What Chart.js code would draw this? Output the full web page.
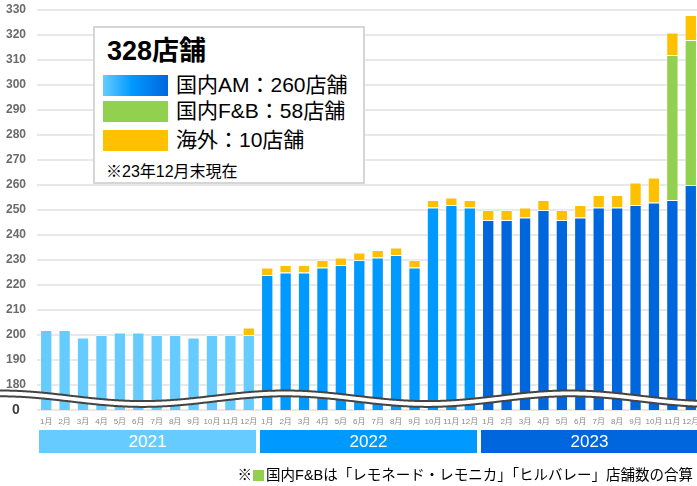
<!DOCTYPE html>
<html><head><meta charset="utf-8">
<script src="https://cdn.jsdelivr.net/npm/chart.js@4/dist/chart.umd.min.js"></script>
<style>
html,body{margin:0;padding:0;background:#fff;overflow:hidden;}
#wrap{position:relative;width:697px;height:486px;overflow:hidden;}
#c{position:absolute;left:0;top:0;}
.jp{font-family:"Liberation Sans","Noto Sans CJK JP",sans-serif;}
#legend{position:absolute;left:93px;top:26px;width:272px;height:158px;border:2px solid #d6d6d6;background:#fff;box-sizing:border-box;color:#000;}
#legend .title{position:absolute;left:12px;top:6px;font-size:27px;font-weight:bold;line-height:34px;white-space:nowrap;}
#legend .row{position:absolute;left:8px;height:22px;white-space:nowrap;}
#legend .sw{position:absolute;left:0;top:0;width:65px;height:21px;}
#legend .lt{position:absolute;left:73px;top:-3px;font-size:21px;line-height:26px;}
#legend .note{position:absolute;left:11px;top:134px;font-size:16px;line-height:20px;white-space:nowrap;}
.band{position:absolute;top:430px;height:23px;color:#fff;font-family:"Liberation Sans",Arial,sans-serif;font-size:17px;line-height:23px;text-align:center;}
#foot{position:absolute;right:4px;top:466px;font-size:14.5px;line-height:19px;white-space:nowrap;color:#000;}
#foot .sq{display:inline-block;width:11px;height:11px;background:#92D050;margin:0 2px 0 1px;vertical-align:-1px;}
</style></head>
<body>
<div id="wrap">
<canvas id="c" width="700" height="486"></canvas>
<div id="legend" class="jp">
  <div class="title">328店舗</div>
  <div class="row" style="top:47px"><div class="sw" style="background:linear-gradient(90deg,#66CCFF,#0099FF 45%,#0066DD)"></div><div class="lt">国内AM：260店舗</div></div>
  <div class="row" style="top:73px"><div class="sw" style="background:#92D050"></div><div class="lt">国内F&amp;B：58店舗</div></div>
  <div class="row" style="top:102px"><div class="sw" style="background:#FFC000"></div><div class="lt">海外：10店舗</div></div>
  <div class="note">※23年12月末現在</div>
</div>
<div id="bands"></div>
<div id="foot" class="jp">※<span class="sq"></span>国内F&amp;Bは「レモネード・レモニカ」「ヒルバレー」店舗数の合算</div>
</div>
<script>
const years = ['2021', '2022', '2023'];
const months = ['1月','2月','3月','4月','5月','6月','7月','8月','9月','10月','11月','12月'];
const domesticAM = [202,202,199,200,201,201,200,200,199,200,200,200,
                    224,225,225,227,228,230,231,232,227,251,252,251,
                    246,246,247,250,246,247,251,251,252,253,254,260];
const domesticFB = [0,0,0,0,0,0,0,0,0,0,0,0,
                    0,0,0,0,0,0,0,0,0,0,0,0,
                    0,0,0,0,0,0,0,0,0,0,58,58];
const overseas   = [0,0,0,0,0,0,0,0,0,0,0,3,
                    3,3,3,3,3,3,3,3,3,3,3,3,
                    4,4,4,4,4,5,5,5,9,10,9,10];
const yTickMin = 170, yTickMax = 330;   // 170 is displayed as "0" (broken axis)

const yearColors = ['#66CCFF', '#0099FF', '#0066DD'];
const labels = [];
const yearOf = [];
years.forEach((y, yi) => months.forEach(m => { labels.push(m); yearOf.push(yi); }));

const wavePlugin = {
  id: 'wave',
  afterDatasetsDraw(chart) {
    const ctx = chart.ctx;
    const W = chart.width;
    const P = 285, A = 5.3, C = 395.8, gap = 5.8;
    const up = x => C - A * Math.cos(2 * Math.PI * x / P);
    ctx.save();
    ctx.beginPath();
    for (let x = -2; x <= W + 2; x++) { const y = up(x); x === -2 ? ctx.moveTo(x, y) : ctx.lineTo(x, y); }
    for (let x = W + 2; x >= -2; x--) ctx.lineTo(x, up(x) + gap);
    ctx.closePath();
    ctx.fillStyle = '#fff';
    ctx.fill();
    ctx.lineWidth = 2;
    ctx.strokeStyle = '#444';
    ctx.beginPath();
    for (let x = -2; x <= W + 2; x++) { const y = up(x); x === -2 ? ctx.moveTo(x, y) : ctx.lineTo(x, y); }
    ctx.stroke();
    ctx.beginPath();
    for (let x = -2; x <= W + 2; x++) { const y = up(x) + gap; x === -2 ? ctx.moveTo(x, y) : ctx.lineTo(x, y); }
    ctx.stroke();
    ctx.restore();
  }
};

const common = { borderWidth: 1, borderColor: 'rgba(255,255,255,0.45)', barPercentage: 0.67, categoryPercentage: 1, stack: 's' };
const chart = new Chart(document.getElementById('c'), {
  type: 'bar',
  data: {
    labels,
    datasets: [
      Object.assign({ label: '国内AM', data: domesticAM, backgroundColor: yearOf.map(i => yearColors[i]) }, common),
      Object.assign({ label: '国内F&B', data: domesticFB, backgroundColor: '#92D050' }, common),
      Object.assign({ label: '海外', data: overseas, backgroundColor: '#FFC000' }, common)
    ]
  },
  options: {
    responsive: false,
    animation: false,
    layout: { padding: { top: 10, right: 0, left: 0, bottom: 0 } },
    plugins: { legend: { display: false }, tooltip: { enabled: false } },
    scales: {
      x: {
        stacked: true,
        grid: { display: false, drawTicks: false },
        border: { display: false },
        ticks: { autoSkip: false, maxRotation: 0, minRotation: 0, padding: 7,
                 font: { size: 8, family: 'Liberation Sans, Noto Sans CJK JP' }, color: '#8a8a8a' },
        afterFit(s) { s.height = 76; s.paddingLeft = 0; s.paddingRight = 0; }
      },
      y: {
        stacked: true,
        min: yTickMin, max: yTickMax,
        grid: { color: '#e8e8e8', lineWidth: 2, drawTicks: false },
        border: { display: false },
        ticks: {
          stepSize: 10, padding: 11, crossAlign: 'center',
          callback: v => v === yTickMin ? '0' : v,
          font: ctx => ({ size: ctx.tick && ctx.tick.value === yTickMin ? 14 : 12, weight: 'bold', family: 'Liberation Sans, Arial' }),
          color: ctx => ctx.tick && ctx.tick.value === yTickMin ? '#404040' : '#6a6a6a'
        },
        afterFit(s) { s.width = 37; s.paddingTop = 0; s.paddingBottom = 0; }
      }
    }
  },
  plugins: [wavePlugin]
});

const xs = chart.scales.x;
const half = (xs.getPixelForValue(1) - xs.getPixelForValue(0)) / 2;
const bands = document.getElementById('bands');
years.forEach((y, yi) => {
  const l = xs.getPixelForValue(yi * 12) - half + 2;
  const r = xs.getPixelForValue(yi * 12 + 11) + half - 2;
  const d = document.createElement('div');
  d.className = 'band';
  d.style.left = l + 'px';
  d.style.width = (r - l) + 'px';
  d.style.background = yearColors[yi];
  d.textContent = y;
  bands.appendChild(d);
});
</script>
</body></html>
